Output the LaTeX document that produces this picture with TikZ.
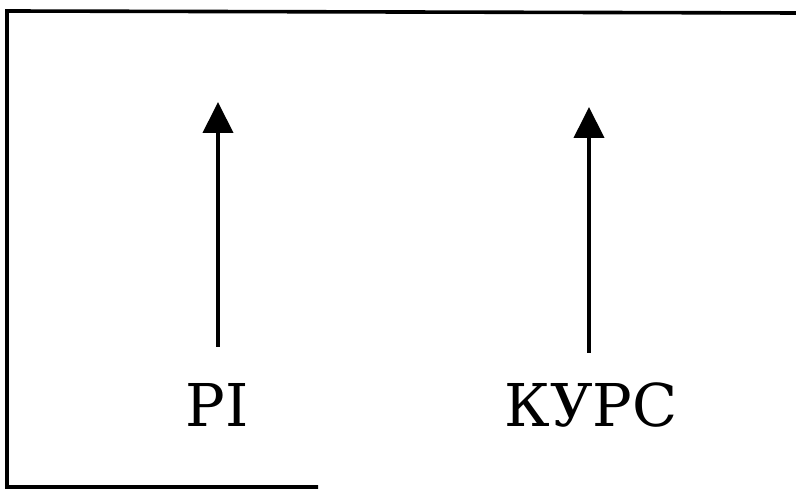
\documentclass[tikz,border=0pt]{standalone}
\usepackage{fontspec}
\setmainfont{DejaVu Serif}
\usepackage{tikz}
\usetikzlibrary{arrows.meta, positioning}
\tikzset{
  frameline/.style={line width=1.8pt, black},
  uparrow/.style={line width=2pt, -{Triangle[length=15.5pt,width=15pt]}},
  label/.style={font=\fontsize{29.5}{36}\selectfont, inner sep=0pt}
}

\begin{document}
\begin{tikzpicture}[x=0.5pt,y=-0.5pt]
\useasboundingbox (0,0) rectangle (796,490);
% frame
\draw[frameline] (796,13) -- (7,11) -- (7,487) -- (318,487);
% labels
\node[label] (pi) at (217,405) {PI};
\node[label] (kurs) at (591,405) {КУРС};
% arrows
\coordinate (pibot) at (218,347);
\coordinate (pitop) at (218,102);
\coordinate (kursbot) at (589,353);
\coordinate (kurstop) at (589,107);
\draw[uparrow] (pibot) -- (pitop);
\draw[uparrow] (kursbot) -- (kurstop);
\end{tikzpicture}
\end{document}
